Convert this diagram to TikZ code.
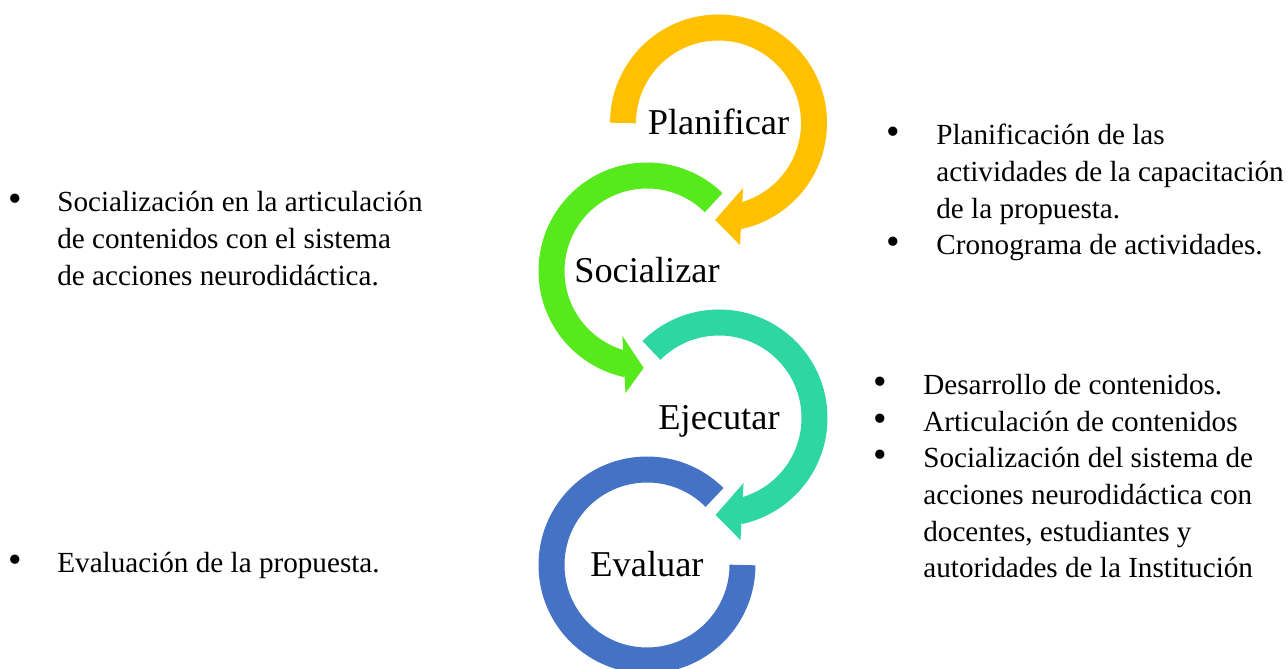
\documentclass[tikz,border=0pt]{standalone}
\usepackage{fontspec}
\setmainfont{Liberation Serif}
\usetikzlibrary{calc,positioning}

\definecolor{plancol}{HTML}{FFC000}
\definecolor{soccol}{HTML}{56E91C}
\definecolor{ejecol}{HTML}{2ED6A1}
\definecolor{evalcol}{HTML}{4472C4}

\newcommand{\itemfont}{\fontsize{16.6}{20.8}\selectfont}
\newcommand{\stagefont}{\fontsize{20.7}{24}\selectfont}

\begin{document}
\begin{tikzpicture}[x=0.02cm, y=0.02cm,
    ring/.style={line width=0.52cm},
    stage/.style={font=\stagefont, anchor=base, inner sep=0},
    item/.style={font=\itemfont, anchor=base west, inner sep=0},
    bul/.style={font=\fontsize{22}{24}\selectfont, anchor=base, inner sep=0}]
  \useasboundingbox (0,0) rectangle (1288,669);

  % centres of the four rings
  \coordinate (P) at (718.5,546);
  \coordinate (S) at (647,398);
  \coordinate (E) at (719,251);
  \coordinate (V) at (647,104);

  % rings with their arrow heads
  \draw[ring, plancol] ($(P)+(180:95.5)$) arc[start angle=180, end angle=-78, radius=95.5];
  \fill[plancol] ($(P)+(-69.3:69.5)$) -- ($(P)+(-80:124)$) -- ($(P)+(-92:97)$) -- cycle;
  \draw[ring, soccol] ($(S)+(45.7:95.5)$) arc[start angle=45.7, end angle=258, radius=95.5];
  \fill[soccol] ($(S)+(249.3:69.5)$) -- ($(S)+(260:124)$) -- ($(S)+(268:97)$) -- cycle;
  \draw[ring, ejecol] ($(E)+(135:95.5)$) arc[start angle=135, end angle=-78, radius=95.5];
  \fill[ejecol] ($(E)+(-69.3:69.5)$) -- ($(E)+(-80:124)$) -- ($(E)+(-92:97)$) -- cycle;
  \draw[ring, evalcol] ($(V)+(45:95.5)$) arc[start angle=45, end angle=360, radius=95.5];

  \node[stage] (plan) at ($(P)+(0,-12)$) {Planificar};
  \node[stage] (soc) at ($(S)+(0,-12)$) {Socializar};
  \node[stage] (eje) at ($(E)+(0,-12)$) {Ejecutar};
  \node[stage] (eval) at ($(V)+(0,-12)$) {Evaluar};

  % left column
  \node[item] (soc1) at (57,457) {\begin{tabular}[t]{@{}l@{}}Socialización en la articulación\\de contenidos con el sistema\\de acciones neurodidáctica.\end{tabular}};
  \node[item] (eval1) at (57,96) {Evaluación de la propuesta.};

  % right column
  \node[item] (plan1) at (936,524) {\begin{tabular}[t]{@{}l@{}}Planificación de las\\actividades de la capacitación\\de la propuesta.\end{tabular}};
  \node[item] (plan2) at (936,414) {Cronograma de actividades.};
  \node[item] (eje1) at (923,274) {Desarrollo de contenidos.};
  \node[item] (eje2) at (923,237) {Articulación de contenidos};
  \node[item] (eje3) at (923,201) {\begin{tabular}[t]{@{}l@{}}Socialización del sistema de\\acciones neurodidáctica con\\docentes, estudiantes y\\autoridades de la Institución\end{tabular}};

  % bullets
  \node[bul] (bsoc1) at ($(soc1.base west)+(-42,0)$) {\textbullet};
  \node[bul] (beval1) at ($(eval1.base west)+(-42,0)$) {\textbullet};
  \node[bul] (bplan1) at ($(plan1.base west)+(-43,0)$) {\textbullet};
  \node[bul] (bplan2) at ($(plan2.base west)+(-43,0)$) {\textbullet};
  \node[bul] (beje1) at ($(eje1.base west)+(-43,0)$) {\textbullet};
  \node[bul] (beje2) at ($(eje2.base west)+(-43,0)$) {\textbullet};
  \node[bul] (beje3) at ($(eje3.base west)+(-43,0)$) {\textbullet};
\end{tikzpicture}
\end{document}
